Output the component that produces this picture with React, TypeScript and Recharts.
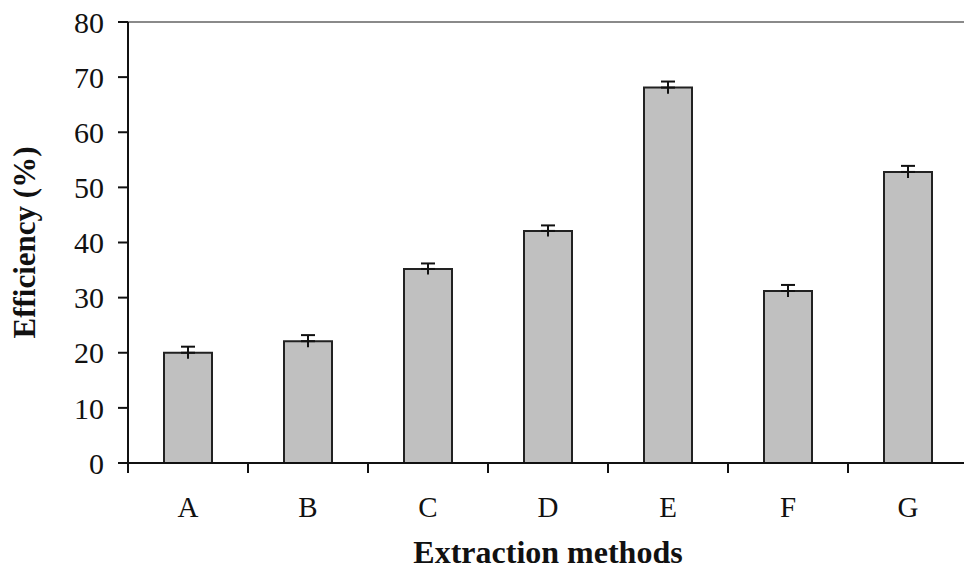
import React from 'react';
import { BarChart, Bar, XAxis, YAxis, ErrorBar, ReferenceLine, Label } from 'recharts';

const categories = ['A', 'B', 'C', 'D', 'E', 'F', 'G'];
const efficiency = [20, 22.1, 35.2, 42.1, 68.1, 31.2, 52.8];
const errorPlus = [1.1, 1.1, 1.0, 1.0, 1.1, 1.1, 1.1];
const errorMinus = [1.1, 1.1, 1.0, 1.0, 1.1, 1.1, 1.1];
const yTicks = [0, 10, 20, 30, 40, 50, 60, 70, 80];

const data = categories.map((name, i) => ({
  name,
  value: efficiency[i],
  errUp: [0, errorPlus[i]],
  errDown: [errorMinus[i], 0],
}));

const FONT = '"Liberation Serif", "Times New Roman", serif';
const TICK_SIZE = 10;
const TICK_MARGIN = 23;

const XTick = (props: any) => {
  const { x, y, payload, index, visibleTicksCount } = props;
  const half = payload && typeof payload.offset === 'number' && payload.offset > 0 ? payload.offset : 60;
  const axisY = y - TICK_SIZE - TICK_MARGIN;
  const isLast = index === visibleTicksCount - 1;
  return (
    <g>
      <line x1={x - half} y1={axisY} x2={x - half} y2={axisY + TICK_SIZE} stroke="#111" strokeWidth={2} />
      {isLast && (
        <line x1={x + half} y1={axisY} x2={x + half} y2={axisY + TICK_SIZE} stroke="#111" strokeWidth={2} />
      )}
      <text x={x} y={y} dy="0.71em" textAnchor="middle" fontFamily={FONT} fontSize={29} fill="#111">
        {payload.value}
      </text>
    </g>
  );
};

export default function App() {
  return (
    <div style={{ position: 'absolute', left: 0, top: 0, width: 964, height: 570, overflow: 'hidden', background: '#fff' }}>
      <BarChart
        width={972}
        height={570}
        data={data}
        margin={{ top: 22, right: 4, bottom: 0, left: 0 }}
        barSize={48}
      >
        <ReferenceLine y={80} stroke="#8a8a8a" strokeWidth={2} />
        <XAxis
          dataKey="name"
          height={107}
          axisLine={{ stroke: '#111', strokeWidth: 2 }}
          tickLine={false}
          tickSize={TICK_SIZE}
          tickMargin={TICK_MARGIN}
          tick={<XTick />}
          interval={0}
        >
          <Label
            value="Extraction methods"
            position="insideBottom"
            offset={7}
            style={{ fontFamily: FONT, fontSize: 32, fontWeight: 'bold', fill: '#111' }}
          />
        </XAxis>
        <YAxis
          width={128}
          domain={[0, 80]}
          ticks={yTicks}
          interval={0}
          axisLine={{ stroke: '#111', strokeWidth: 2 }}
          tickLine={{ stroke: '#111', strokeWidth: 2 }}
          tickSize={10}
          tickMargin={14}
          tick={{ fontFamily: FONT, fontSize: 30, fill: '#111' }}
        >
          <Label
            value="Efficiency (%)"
            angle={-90}
            position="insideLeft"
            offset={24}
            style={{ fontFamily: FONT, fontSize: 31, fontWeight: 'bold', fill: '#111', textAnchor: 'middle' }}
          />
        </YAxis>
        <Bar dataKey="value" fill="#c0c0c0" stroke="#222" strokeWidth={2} isAnimationActive={false}>
          <ErrorBar dataKey="errUp" width={7} stroke="#111" strokeWidth={2} isAnimationActive={false} />
          <ErrorBar dataKey="errDown" width={0} stroke="#111" strokeWidth={2} isAnimationActive={false} />
        </Bar>
      </BarChart>
    </div>
  );
}
